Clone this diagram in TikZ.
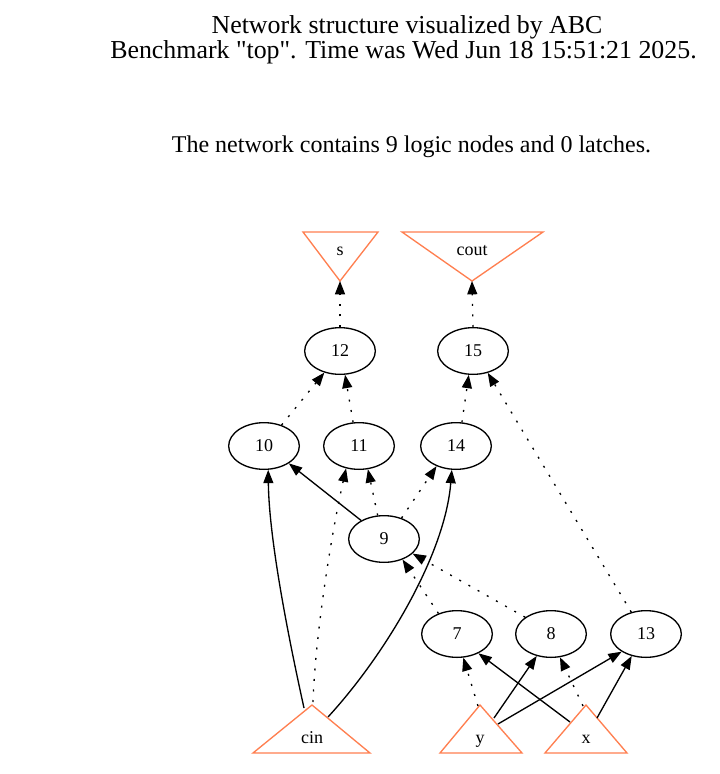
\documentclass[tikz,border=0pt]{standalone}
\usepackage{fontspec}
\newfontfamily\gvfont{Liberation Serif}
\usetikzlibrary{arrows.meta,shapes.geometric}
\definecolor{coral}{HTML}{FF7F50}
\begin{document}
\begin{tikzpicture}[x=0.75pt,y=-0.75pt,
  lnode/.style={ellipse,draw,line width=1pt,inner sep=0pt,minimum width=53pt,minimum height=35pt,font=\gvfont\fontsize{13.5}{16}\selectfont},
  iolabel/.style={inner sep=0pt,anchor=base,font=\gvfont\fontsize{13.5}{16}\selectfont},
  titlet/.style={inner sep=0pt,anchor=base,font=\gvfont\fontsize{19.4}{23}\selectfont},
  subt/.style={inner sep=0pt,anchor=base,font=\gvfont\fontsize{18}{22}\selectfont},
  io/.style={draw=coral,line width=1pt,line join=miter},
  e/.style={line width=1pt,-{Triangle[length=10pt,width=7.5pt]}},
  dotl/.style={e,dash pattern=on 1.5pt off 6.4pt}]
\useasboundingbox (0,0) rectangle (720,774);
\fill[white] (0,0) rectangle (720,774);

% titles
\node[titlet] (t1) at (407,33.3) {Network structure visualized by ABC};
\node[titlet] (t2) at (403.5,58.3) {Benchmark "top". Time was Wed Jun 18 15:51:21 2025.};
\node[subt] (t3) at (411.5,152.7) {The network contains 9 logic nodes and 0 latches.};

% outputs
\draw[io] (303,232) -- (378,232) -- (340,281) -- cycle;
\node[iolabel] (s) at (340,255) {s};
\coordinate (sA) at (340,281);
\draw[io] (402,232) -- (543,232) -- (472,281) -- cycle;
\node[iolabel] (cout) at (472,255) {cout};
\coordinate (coutA) at (472,281);

% inputs
\draw[io] (253,753) -- (370,753) -- (312,705) -- cycle;
\node[iolabel] (cin) at (312,743) {cin};
\draw[io] (440,753) -- (522,753) -- (480,705) -- cycle;
\node[iolabel] (y) at (480,743) {y};
\draw[io] (545,753) -- (627,753) -- (586,705) -- cycle;
\node[iolabel] (x) at (586,743) {x};
\coordinate (cin10) at (304,708);
\coordinate (cin11) at (313,702);
\coordinate (cin14) at (328,717);
\coordinate (y7) at (478,706);
\coordinate (y8) at (494,718);
\coordinate (y13) at (498,724);
\coordinate (x7) at (570,722);
\coordinate (x8) at (583,706);
\coordinate (x13) at (597,718);

% logic nodes
\node[lnode] (n12) at (340,351) {12};
\node[lnode] (n15) at (473,351) {15};
\node[lnode] (n10) at (264,446) {10};
\node[lnode] (n11) at (359,446) {11};
\node[lnode] (n14) at (456,446) {14};
\node[lnode] (n9) at (384,539) {9};
\node[lnode] (n7) at (457,634) {7};
\node[lnode] (n8) at (551,634) {8};
\node[lnode] (n13) at (646,634) {13};

% edges
\draw[dotl] (n12.90) -- (sA);
\draw[dotl] (n15.90) -- (coutA);
\draw[dotl] (n10.50) -- (n12.234);
\draw[dotl] (n11.104) -- (n12.282);
\draw[dotl] (n14.76) -- (n15.260);
\draw[dotl] (n13.124) -- (n15.304);
\draw[e] (n9.141) -- (n10.325);
\draw[dotl] (n9.105) -- (n11.291);
\draw[dotl] (n9.50) -- (n14.226);
\draw[e] (cin10) .. controls (289,640) and (269,540) .. (n10.280);
\draw[dotl] (cin11) .. controls (315,640) and (330,540) .. (n11.240);
\draw[e] (cin14) .. controls (385,655) and (445,555) .. (n14.260);
\draw[dotl] (n7.132) -- (n9.312);
\draw[dotl] (n8.147) -- (n9.333);
\draw[dotl] (y7) -- (n7.285);
\draw[e] (x7) -- (n7.318);
\draw[e] (y8) -- (n8.237);
\draw[dotl] (x8) -- (n8.291);
\draw[e] (y13) -- (n13.216);
\draw[e] (x13) -- (n13.237);
\end{tikzpicture}
\end{document}
